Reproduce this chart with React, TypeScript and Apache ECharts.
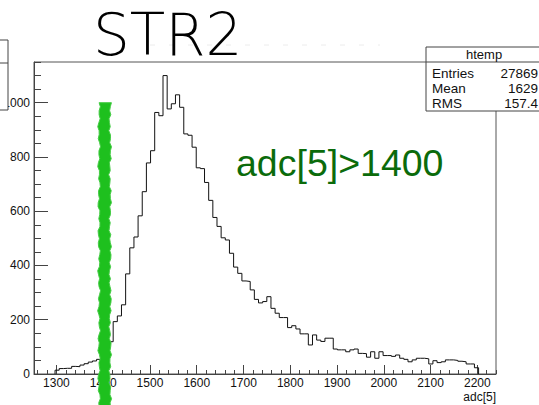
import React, { useEffect, useRef } from "react";
import * as echarts from "echarts";

// ---- data ----
const BIN_START = 1297;
const BIN_WIDTH = 8.88;
const counts = [
  14, 20, 21, 21, 28, 27, 33, 38, 44, 48,
  54, 58, 72, 119, 193, 214, 255, 369, 465, 505,
  583, 672, 778, 823, 964, 952, 1100, 977, 996, 1029,
  983, 885, 880, 836, 760, 757, 706, 640, 577, 544,
  502, 494, 445, 394, 371, 343, 341, 310, 275, 262,
  267, 285, 242, 224, 208, 208, 171, 178, 166, 148,
  148, 107, 144, 125, 120, 132, 132, 92, 89, 89,
  82, 89, 92, 76, 75, 62, 82, 58, 82, 68,
  68, 65, 70, 58, 54, 45, 52, 58, 58, 56,
  37, 49, 42, 45, 52, 52, 50, 47, 45, 37,
  37, 23,
];
const X_MIN = 1252;
const X_MAX = 2240;
const Y_MIN = 0;
const Y_MAX = 1150;
const xMajorTicks = [1300, 1400, 1500, 1600, 1700, 1800, 1900, 2000, 2100, 2200];
const yMajorTicks = [0, 200, 400, 600, 800, 1000];
const X_MINOR_STEP = 20;
const Y_MINOR_STEP = 50;
const statLabels = ["Entries", "Mean", "RMS"];
const statValues = ["27869", "1629", "157.4"];
const HIST_NAME = "htemp";
const TITLE = "STR2";
const CUT_TEXT = "adc[5]>1400";
const X_TITLE = "adc[5]";
const CUT_VALUE = 1403;
const CUT_TOP = 1000;

const FONT = "'Liberation Sans', Arial, Helvetica, sans-serif";

function minorTicks(min: number, max: number, step: number, majors: number[]) {
  const out: number[] = [];
  const start = Math.ceil(min / step) * step;
  for (let v = start; v <= max + 1e-9; v += step) {
    if (!majors.includes(v)) out.push(v);
  }
  return out;
}

const plain = (v: number) => String(v);

export default function App() {
  const ref = useRef<HTMLDivElement>(null);
  useEffect(() => {
    if (!ref.current) return;
    const chart = echarts.init(ref.current, undefined, { renderer: "svg" });

    const pts: number[][] = [[BIN_START, 0]];
    counts.forEach((c, i) => {
      const lo = BIN_START + i * BIN_WIDTH;
      pts.push([lo, c], [lo + BIN_WIDTH, c]);
    });
    pts.push([BIN_START + counts.length * BIN_WIDTH, 0]);

    const xMinor = minorTicks(X_MIN, X_MAX, X_MINOR_STEP, xMajorTicks);
    const yMinor = minorTicks(Y_MIN, Y_MAX, Y_MINOR_STEP, yMajorTicks);

    const axisColor = "#444";
    chart.setOption({
      animation: false,
      grid: {
        left: 34, top: 62, width: 462, height: 312,
        show: true, borderColor: "#555", borderWidth: 1, backgroundColor: "transparent",
      },
      xAxis: [
        {
          type: "value", min: X_MIN, max: X_MAX, position: "bottom",
          axisLine: { show: true, lineStyle: { color: axisColor, width: 1 } },
          axisTick: { show: true, inside: true, length: 9, customValues: xMajorTicks, lineStyle: { color: axisColor } },
          axisLabel: { show: true, customValues: xMajorTicks, formatter: plain, fontSize: 12, color: "#111", margin: 3, fontFamily: FONT },
          splitLine: { show: false },
        },
        {
          type: "value", min: X_MIN, max: X_MAX, position: "bottom",
          axisLine: { show: false },
          axisTick: { show: true, inside: true, length: 4, customValues: xMinor, lineStyle: { color: axisColor } },
          axisLabel: { show: false },
          splitLine: { show: false },
        },
      ],
      yAxis: [
        {
          type: "value", min: Y_MIN, max: Y_MAX, position: "left",
          axisLine: { show: true, lineStyle: { color: axisColor, width: 1 } },
          axisTick: { show: true, inside: true, length: 14, customValues: yMajorTicks, lineStyle: { color: axisColor } },
          axisLabel: { show: true, customValues: yMajorTicks, formatter: plain, fontSize: 12, color: "#111", margin: 4, fontFamily: FONT },
          splitLine: { show: false },
        },
        {
          type: "value", min: Y_MIN, max: Y_MAX, position: "left",
          axisLine: { show: false },
          axisTick: { show: true, inside: true, length: 7, customValues: yMinor, lineStyle: { color: axisColor } },
          axisLabel: { show: false },
          splitLine: { show: false },
        },
      ],
      series: [
        {
          type: "line", xAxisIndex: 0, yAxisIndex: 0, data: pts,
          showSymbol: false, symbol: "none",
          lineStyle: { color: "#111", width: 1 },
          z: 3,
        },
      ],
    });

    // green cut marker positioned through the axes
    const cx = chart.convertToPixel({ xAxisIndex: 0 }, CUT_VALUE) as number;
    const ty = chart.convertToPixel({ yAxisIndex: 0 }, CUT_TOP) as number;
    const half = 5.5;
    const left: number[][] = [];
    const right: number[][] = [];
    let k = 0;
    for (let y = ty; y <= 410; y += 4) {
      const wl = Math.sin(k * 1.9) * 0.9 + Math.sin(k * 0.7) * 0.6;
      const wr = Math.sin(k * 2.3 + 1) * 0.9 + Math.sin(k * 0.5 + 2) * 0.6;
      left.push([cx - half + wl, y]);
      right.push([cx + half + wr, y]);
      k++;
    }
    const greenPoly = left.concat(right.reverse());

    const statRows = statLabels.map((lab, i) => [
      { type: "text", left: 432, top: 66 + i * 15, z: 102, style: { text: lab, fontSize: 13.5, fontFamily: FONT, fill: "#111" } },
      { type: "text", right: 1, top: 66 + i * 15, z: 102, style: { text: statValues[i], fontSize: 13.5, fontFamily: FONT, fill: "#111", textAlign: "right" } },
    ]).flat();

    chart.setOption({
      graphic: [
        // faint dashes behind title
        { type: "line", z: 1, shape: { x1: 150, y1: 45, x2: 380, y2: 45 }, style: { stroke: "#ececec", lineWidth: 1, lineDash: [5, 14] } },
        { type: "text", left: 93, top: 6, z: 10, style: { text: TITLE, fontSize: 58, fontFamily: "'DejaVu Sans', sans-serif", fontWeight: 200, fill: "#000" } },
        { type: "text", left: 236, top: 144, z: 10, style: { text: CUT_TEXT, fontSize: 37.5, fontFamily: FONT, fill: "#0b6b0b" } },
        { type: "text", right: 43, top: 391, z: 10, style: { text: X_TITLE, fontSize: 12, fontFamily: FONT, fill: "#111", textAlign: "right" } },
        // stats box
        { type: "rect", z: 100, shape: { x: 426, y: 47, width: 130, height: 64 }, style: { fill: "#fff", stroke: "#444", lineWidth: 1 } },
        { type: "line", z: 101, shape: { x1: 426, y1: 62, x2: 545, y2: 62 }, style: { stroke: "#444", lineWidth: 1 } },
        { type: "text", left: 466, top: 48, z: 102, style: { text: HIST_NAME, fontSize: 13, fontFamily: FONT, fill: "#111" } },
        ...statRows,
        // partial neighbouring box at the left edge
        { type: "rect", z: 100, shape: { x: -10, y: 40, width: 18, height: 70 }, style: { fill: "#fff", stroke: "#444", lineWidth: 1 } },
        { type: "line", z: 101, shape: { x1: 0, y1: 63, x2: 8, y2: 63 }, style: { stroke: "#444", lineWidth: 1 } },
        // green cut marker
        { type: "polygon", z: 120, shape: { points: greenPoly }, style: { fill: "#1ec01e", stroke: "#44cc44", lineWidth: 1 } },
      ],
    });

    return () => chart.dispose();
  }, []);
  return (
    <div
      ref={ref}
      style={{ position: "fixed", left: 0, top: 0, width: 539, height: 405, background: "#fff" }}
    />
  );
}
